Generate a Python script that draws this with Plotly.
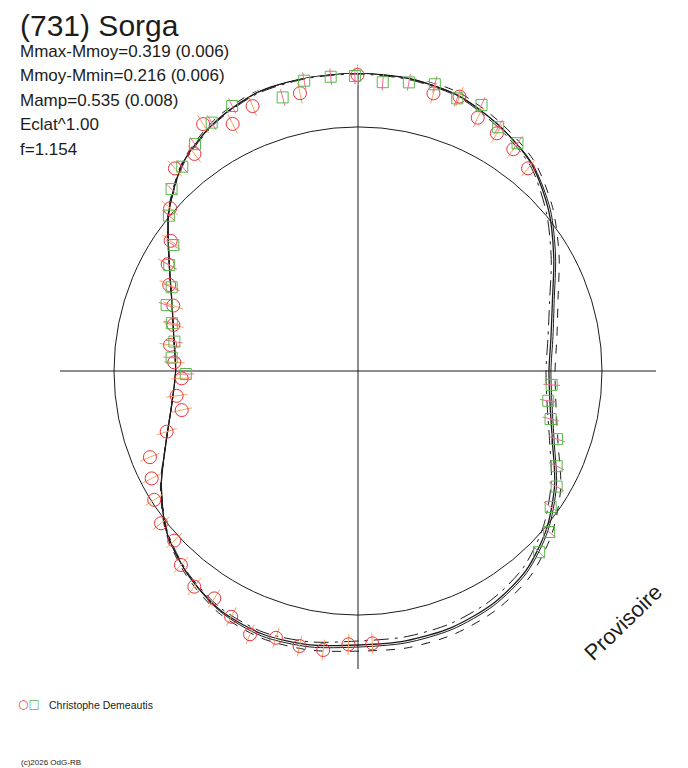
import numpy as np
import plotly.graph_objects as go

# fitted curves: phase (deg) and relative magnitude (mag - mean mag)
fit_phase = list(range(0, 360, 10))
fit_a = [-0.217, -0.213, -0.199, -0.161, -0.110, -0.022, 0.083, 0.179, 0.238, 0.266,
         0.243, 0.179, 0.078, -0.009, -0.073, -0.106, -0.122, -0.126, -0.126, -0.142,
         -0.149, -0.134, -0.090, -0.026, 0.078, 0.194, 0.277, 0.316, 0.289, 0.227,
         0.122, -0.013, -0.118, -0.176, -0.210, -0.217]
fit_b = [-0.217, -0.213, -0.199, -0.161, -0.114, -0.031, 0.073, 0.169, 0.227, 0.255,
         0.232, 0.169, 0.068, -0.018, -0.081, -0.114, -0.130, -0.134, -0.134, -0.150,
         -0.157, -0.138, -0.090, -0.026, 0.078, 0.194, 0.277, 0.316, 0.289, 0.227,
         0.122, -0.013, -0.118, -0.176, -0.210, -0.217]
fit_c = [-0.224, -0.220, -0.210, -0.173, -0.126, -0.044, 0.054, 0.148, 0.205, 0.232,
         0.210, 0.148, 0.045, -0.040, -0.102, -0.134, -0.150, -0.154, -0.150, -0.162,
         -0.165, -0.146, -0.098, -0.030, 0.073, 0.194, 0.277, 0.316, 0.289, 0.227,
         0.122, -0.017, -0.122, -0.184, -0.217, -0.224]
fit_d = [-0.213, -0.209, -0.195, -0.153, -0.102, -0.009, 0.097, 0.195, 0.255, 0.283,
         0.260, 0.195, 0.097, 0.009, -0.056, -0.090, -0.106, -0.110, -0.110, -0.130,
         -0.141, -0.126, -0.086, -0.022, 0.078, 0.194, 0.277, 0.316, 0.289, 0.227,
         0.122, -0.013, -0.114, -0.172, -0.206, -0.213]

# observations, session 1 (red circles)
red_phase = [354.8, 343.3, 359.9, 5.0, 10.2, 348.2, 338.3, 333.1, 327.9, 323.0,
             317.9, 15.2, 20.3, 25.3, 30.3, 35.0, 40.0, 310.9, 304.8, 299.3,
             294.5, 289.5, 284.0, 277.9, 272.7, 267.6, 262.2, 257.5, 252.4, 247.5,
             242.5, 237.7, 232.3, 227.3, 222.4, 217.2, 212.3, 207.3, 202.3, 197.1,
             192.0, 187.1, 182.0, 177.0]
red_mag = [-0.256, -0.265, -0.210, -0.226, -0.233, -0.164, -0.169, -0.138, -0.193, -0.117,
           -0.122, -0.179, -0.197, -0.150, -0.131, -0.113, -0.088, -0.020, 0.073, 0.121,
           0.176, 0.238, 0.270, 0.273, 0.307, 0.352, 0.312, 0.327, 0.212, 0.087,
           0.052, 0.013, -0.022, -0.027, -0.080, -0.113, -0.106, -0.136, -0.167, -0.146,
           -0.154, -0.154, -0.124, -0.121]

# observations, session 2 (green squares)
green_phase = [359.4, 354.7, 349.5, 344.6, 339.6, 334.6, 329.5, 324.3, 319.3, 4.9,
               10.0, 15.0, 20.0, 24.9, 29.9, 35.0, 314.3, 309.4, 304.3, 299.3,
               294.2, 289.0, 284.4, 279.1, 274.1, 269.0, 94.1, 98.9, 104.0, 108.9,
               115.6, 120.2, 125.2, 130.1, 135.0]
green_mag = [-0.206, -0.208, -0.207, -0.164, -0.221, -0.200, -0.181, -0.147, -0.108, -0.187,
             -0.199, -0.213, -0.188, -0.200, -0.154, -0.142, -0.071, -0.003, 0.095, 0.130,
             0.193, 0.203, 0.259, 0.295, 0.290, 0.378, 0.248, 0.257, 0.224, 0.161,
             0.111, 0.065, 0.037, -0.026, -0.053]

title = "(731) Sorga"
stats = ["Mmax-Mmoy=0.319 (0.006)", "Mmoy-Mmin=0.216 (0.006)", "Mamp=0.535 (0.008)",
         "Eclat^1.00", "f=1.154"]
observer = "Christophe Demeautis"

RED = "#e8323c"
GREEN = "#5cb84a"
INK = "#1c1c1c"
FONT = "Liberation Sans, Arial, sans-serif"


def flux(m):
    # brightness ratio -> radius (reference circle = mean magnitude)
    return 10 ** (-0.4 * np.asarray(m))


fig = go.Figure()

styles = [(fit_a, "solid", 1.3), (fit_b, "solid", 1.0), (fit_c, "dash", 1.0), (fit_d, "longdashdot", 1.0)]
for vals, dash, w in styles:
    fig.add_trace(go.Scatterpolar(
        r=flux(vals + vals[:1]), theta=fit_phase + [360], mode="lines",
        line=dict(color=INK, width=w, dash=dash, shape="spline", smoothing=0.8),
        showlegend=False, hoverinfo="skip"))

# red circles with radial error ticks
fig.add_trace(go.Scatterpolar(
    r=flux(red_mag), theta=red_phase, mode="markers", cliponaxis=False,
    marker=dict(symbol="line-ns-open", size=15, angle=red_phase, line=dict(color=RED, width=1)),
    showlegend=False, hoverinfo="skip"))
fig.add_trace(go.Scatterpolar(
    r=flux(red_mag), theta=red_phase, mode="markers", cliponaxis=False,
    marker=dict(symbol="circle-open", size=13, color=RED, line=dict(color=RED, width=1)),
    showlegend=False))

# green squares with radial error ticks
fig.add_trace(go.Scatterpolar(
    r=flux(green_mag), theta=green_phase, mode="markers", cliponaxis=False,
    marker=dict(symbol="line-ns-open", size=12, angle=green_phase, line=dict(color=GREEN, width=1)),
    showlegend=False, hoverinfo="skip"))
fig.add_trace(go.Scatterpolar(
    r=flux(green_mag), theta=green_phase, mode="markers", cliponaxis=False,
    marker=dict(symbol="square-open", size=11, color=GREEN, line=dict(color=GREEN, width=1)),
    showlegend=False))

# the page puts the figure 8 px in from the top-left corner
OFF = 8
W, H = 688, 768


def px(x, y):
    return (x - OFF) / W, 1 - (y - OFF) / H


cx, cy, R = 358 - OFF, 371 - OFF, 298  # centre and half-length of the axis cross, px
fig.update_layout(
    width=W, height=H,
    margin=dict(l=0, r=0, t=0, b=0),
    paper_bgcolor="white", plot_bgcolor="white",
    polar=dict(
        domain=dict(x=[(cx - R) / W, (cx + R) / W], y=[(H - cy - R) / H, (H - cy + R) / H]),
        bgcolor="white",
        radialaxis=dict(range=[0, R / 244], tickvals=[1], showticklabels=False, ticks="",
                        showline=False, showgrid=True, gridcolor=INK, gridwidth=1),
        angularaxis=dict(rotation=90, direction="clockwise", tickvals=[0, 90, 180, 270],
                         showticklabels=False, ticks="", showline=False,
                         showgrid=True, gridcolor=INK, gridwidth=1.2),
    ),
)

x0, _ = px(19, 0)
fig.add_annotation(xref="paper", yref="paper", x=x0, y=1, text=title,
                   showarrow=False, xanchor="left", yanchor="top", borderpad=0,
                   font=dict(family=FONT, size=30, color=INK))
for i, s in enumerate(stats):
    x0, y0 = px(18, 51.5 + 24.4 * i)
    fig.add_annotation(xref="paper", yref="paper", x=x0, y=y0, text=s,
                       showarrow=False, xanchor="left", yanchor="middle",
                       font=dict(family=FONT, size=17, color=INK))

x0, y0 = px(623, 622)
fig.add_annotation(xref="paper", yref="paper", x=x0, y=y0, text="Provisoire",
                   showarrow=False, textangle=-44, xanchor="center", yanchor="middle",
                   font=dict(family=FONT, size=22, color=INK))

x0, y0 = px(16, 704)
fig.add_annotation(xref="paper", yref="paper", x=x0, y=y0,
                   text=f"<span style='color:{RED}'>○</span><span style='color:{GREEN}'>□</span>",
                   showarrow=False, xanchor="left", yanchor="middle",
                   font=dict(family="DejaVu Sans", size=12))
x0, y0 = px(47, 705)
fig.add_annotation(xref="paper", yref="paper", x=x0, y=y0, text=observer,
                   showarrow=False, xanchor="left", yanchor="middle",
                   font=dict(family=FONT, size=10.5, color=INK))
x0, y0 = px(19, 762)
fig.add_annotation(xref="paper", yref="paper", x=x0, y=y0, text="(c)2026 OdG-RB",
                   showarrow=False, xanchor="left", yanchor="middle",
                   font=dict(family=FONT, size=8, color=INK))

fig.write_html("out.html")
